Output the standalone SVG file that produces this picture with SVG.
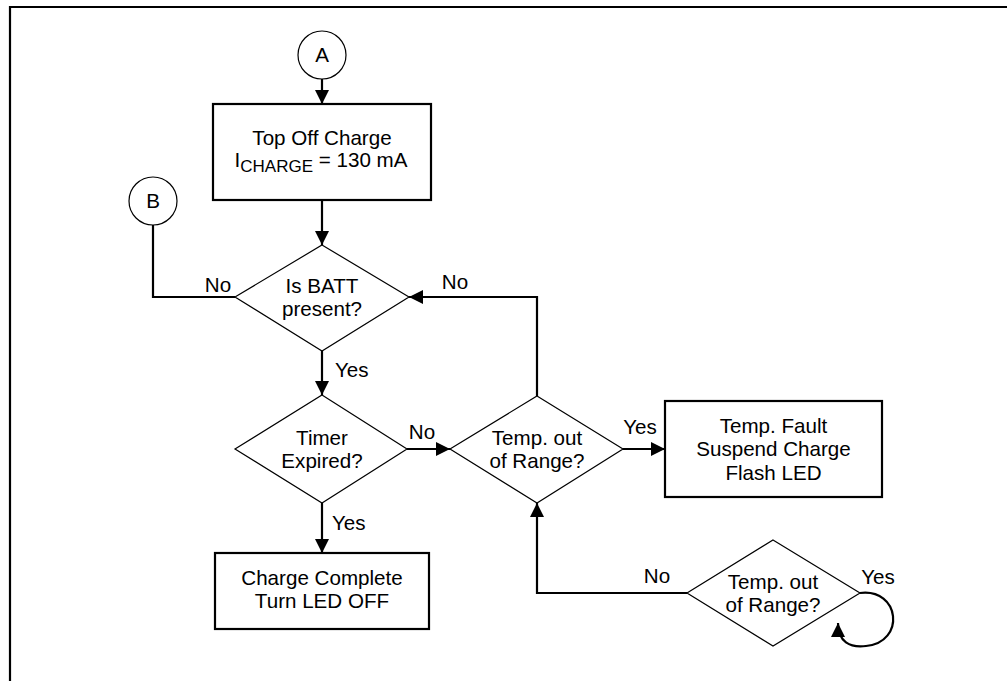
<svg xmlns="http://www.w3.org/2000/svg" width="1007" height="681" viewBox="0 0 1007 681">
<style>
  text { font-family: "Liberation Sans", Arial, sans-serif; font-size: 20.6px; fill: #000; }
  .c { text-anchor: middle; }
  .box { fill: #fff; stroke: #000; stroke-width: 2.2; }
  .dia { fill: #fff; stroke: #000; stroke-width: 1.2; }
  .circ { fill: #fff; stroke: #000; stroke-width: 1.2; }
  .conn { fill: none; stroke: #000; stroke-width: 2.2; }
  .frame { fill: none; stroke: #000; stroke-width: 2.2; }
</style>
<defs>
  <marker id="arr" viewBox="0 0 14 14" refX="14" refY="7" markerWidth="14" markerHeight="14" markerUnits="userSpaceOnUse" orient="auto">
    <path d="M0,0 L14,7 L0,14 z" fill="#000"/>
  </marker>
</defs>
<rect width="1007" height="681" fill="#fff"/>
<path class="frame" d="M10,681 L10,7 L1007,7"/>

<g id="connectors">
  <path class="conn" d="M322,79 L322,104" marker-end="url(#arr)"/>
  <path class="conn" d="M322,200 L322,245" marker-end="url(#arr)"/>
  <path class="conn" d="M153,225 L153,297 L235,297"/>
  <path class="conn" d="M322,351 L322,395" marker-end="url(#arr)"/>
  <path class="conn" d="M407,449 L450,449" marker-end="url(#arr)"/>
  <path class="conn" d="M537,396 L537,297 L409,297" marker-end="url(#arr)"/>
  <path class="conn" d="M623,449 L665,449" marker-end="url(#arr)"/>
  <path class="conn" d="M322,503 L322,553" marker-end="url(#arr)"/>
  <path class="conn" d="M687,593 L537,593 L537,503" marker-end="url(#arr)"/>
  <path class="conn" stroke-width="1.6" d="M860,593 C900,588 906,642 866,646 C850,648 838,642 838,623" marker-end="url(#arr)"/>
  <text x="218" y="292" class="c">No</text>
  <text x="455" y="289" class="c">No</text>
  <text x="335" y="377">Yes</text>
  <text x="422" y="439" class="c">No</text>
  <text x="640" y="434" class="c">Yes</text>
  <text x="332" y="530">Yes</text>
  <text x="657" y="583" class="c">No</text>
  <text x="878" y="584" class="c">Yes</text>
</g>

<g id="nodeA">
  <circle class="circ" cx="322" cy="55" r="24"/>
  <text x="322" y="62" class="c" font-size="17">A</text>
</g>
<g id="nodeB">
  <circle class="circ" cx="153" cy="201" r="24"/>
  <text x="153" y="208" class="c" font-size="17">B</text>
</g>
<g id="topOff">
  <rect class="box" x="213" y="104" width="218" height="96"/>
  <text x="322" y="145" class="c">Top Off Charge</text>
  <text x="321" y="167" class="c">I<tspan font-size="17" dy="5">CHARGE</tspan><tspan dy="-5"> = 130 mA</tspan></text>
</g>
<g id="battPresent">
  <polygon class="dia" points="322,245 409,297 322,351 235,297"/>
  <text x="322" y="293" class="c">Is BATT</text>
  <text x="322" y="316" class="c">present?</text>
</g>
<g id="timerExpired">
  <polygon class="dia" points="322,395 407,449 322,503 235,449"/>
  <text x="322" y="445" class="c">Timer</text>
  <text x="322" y="468" class="c">Expired?</text>
</g>
<g id="tempRange1">
  <polygon class="dia" points="537,396 623,449 537,503 450,449"/>
  <text x="537" y="445" class="c">Temp. out</text>
  <text x="537" y="468" class="c">of Range?</text>
</g>
<g id="tempFault">
  <rect class="box" x="665" y="401" width="217" height="96"/>
  <text x="773.5" y="433" class="c">Temp. Fault</text>
  <text x="773.5" y="456" class="c">Suspend Charge</text>
  <text x="773.5" y="480" class="c">Flash LED</text>
</g>
<g id="chargeComplete">
  <rect class="box" x="215" y="553" width="214" height="76"/>
  <text x="322" y="585" class="c">Charge Complete</text>
  <text x="322" y="608" class="c">Turn LED OFF</text>
</g>
<g id="tempRange2">
  <polygon class="dia" points="773,540 860,593 773,646 687,593"/>
  <text x="773" y="589" class="c">Temp. out</text>
  <text x="773" y="612" class="c">of Range?</text>
</g>
</svg>
